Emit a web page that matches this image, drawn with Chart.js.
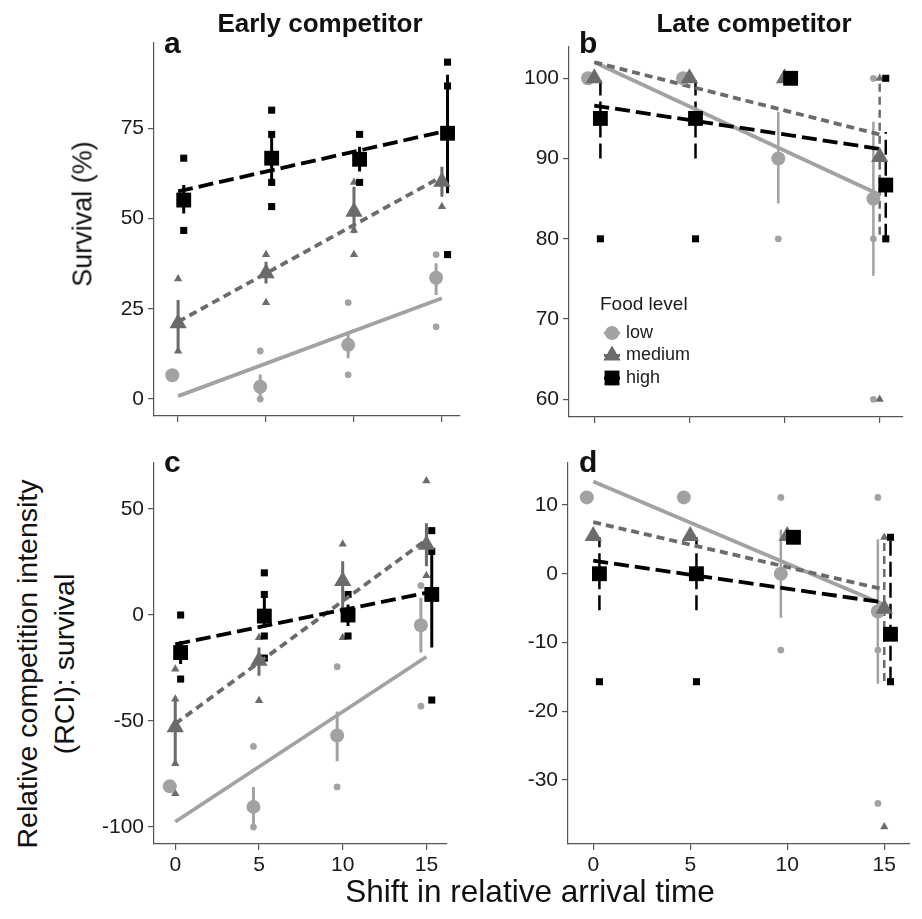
<!DOCTYPE html>
<html>
<head>
<meta charset="utf-8">
<script src="https://cdn.jsdelivr.net/npm/chart.js@4.4.1/dist/chart.umd.min.js"></script>
<style>
body { margin: 0; width: 922px; height: 919px; position: relative; overflow: hidden; background: #fff;
       font-family: "Liberation Sans", Arial, sans-serif; color: #111; }
canvas { position: absolute; }
.lbl { position: absolute; white-space: nowrap; line-height: 1; }
.tag { font-weight: bold; font-size: 30px; }
.ttl { font-weight: bold; font-size: 26px; transform: translateX(-50%); }
.rot { transform: translate(-50%, -50%) rotate(-90deg); text-align: center; line-height: 1.3; }
</style>
</head>
<body>
<canvas id="pa" width="376" height="409" style="left:94px;top:25px"></canvas>
<canvas id="pb" width="404" height="406" style="left:509px;top:29px"></canvas>
<canvas id="pc" width="363" height="439" style="left:94px;top:445px"></canvas>
<canvas id="pd" width="412" height="439" style="left:508px;top:445px"></canvas>

<div class="lbl ttl" style="left:320px;top:10px">Early competitor</div>
<div class="lbl ttl" style="left:754px;top:10px">Late competitor</div>
<div class="lbl tag" style="left:164px;top:28px">a</div>
<div class="lbl tag" style="left:579px;top:28px">b</div>
<div class="lbl tag" style="left:164px;top:447px">c</div>
<div class="lbl tag" style="left:579px;top:447px">d</div>
<div class="lbl rot" style="left:83px;top:214px;font-size:27px">Survival (%)</div>
<div class="lbl rot" style="left:46px;top:664px;font-size:28.5px">Relative competition intensity<br>(RCI): survival</div>
<div class="lbl" style="left:530px;top:876px;font-size:31.5px;transform:translateX(-50%)">Shift in relative arrival time</div>

<script>
'use strict';

var xCats = [0, 5, 10, 15];
var fitX = [0, 15];
var legendLabels = ['low', 'medium', 'high'];

// a - survival, early competitor
var aYTicks = [0, 25, 50, 75];
var aLowMean = [6.6, 3.4, 15.0, 33.6];
var aLowLo = [6.6, 0, 11.3, 28.8];
var aLowHi = [6.6, 6.8, 18.2, 37.6];
var aLowRaw = [[0, 6.7], [5, 13.3], [5, 0], [10, 26.7], [10, 6.7], [15, 40], [15, 20]];
var aLowFit = [0.8, 27.9];
var aMedMean = [21.0, 34.8, 51.9, 60.2];
var aMedLo = [13.3, 32.0, 45.9, 56.0];
var aMedHi = [27.4, 38.0, 58.8, 64.3];
var aMedRaw = [[0, 33.3], [0, 13.3], [5, 40], [5, 26.7], [10, 60], [10, 46.7], [10, 40], [15, 53.3]];
var aMedFit = [21.4, 61.6];
var aHighMean = [55.1, 66.7, 66.4, 73.6];
var aHighLo = [51.4, 60.2, 63.0, 57.0];
var aHighHi = [59.3, 73.6, 69.9, 89.8];
var aHighRaw = [[0, 66.7], [0, 46.7], [5, 80], [5, 73.3], [5, 60], [5, 53.3], [10, 73.3], [10, 60], [15, 93.3], [15, 86.7], [15, 40]];
var aHighFit = [57.5, 74.0];

// b - survival, late competitor
var bYTicks = [60, 70, 80, 90, 100];
var bLowMean = [100, 100, 90, 85];
var bLowLo = [100, 100, 84.4, 75.4];
var bLowHi = [100, 100, 95.8, 94.6];
var bLowRaw = [[10, 80], [15, 100], [15, 80], [15, 60]];
var bLowFit = [102.0, 85.5];
var bMedMean = [100, 100, 100, 90.2];
var bMedLo = [100, 100, 100, 80.5];
var bMedHi = [100, 100, 100, 100];
var bMedRaw = [[15, 100], [15, 60]];
var bMedFit = [102.0, 93.0];
var bHighMean = [95, 95, 100, 86.7];
var bHighLo = [90, 90, 100, 80];
var bHighHi = [100, 100, 100, 93.3];
var bHighRaw = [[0, 80], [5, 80], [15, 100], [15, 80]];
var bHighFit = [96.6, 91.2];

// c - RCI, early competitor
var cYTicks = [-100, -50, 0, 50];
var cLowMean = [-80.8, -90.5, -56.8, -4.8];
var cLowLo = [-80.8, -99.8, -69.0, -17.7];
var cLowHi = [-80.8, -81.1, -45.5, 8.1];
var cLowRaw = [[5, -62], [5, -100], [10, -24.4], [10, -81.1], [15, 13.9], [15, -43]];
var cLowFit = [-97.5, -19.7];
var cMedMean = [-52.9, -21.6, 16.0, 33.2];
var cMedLo = [-70.1, -28.6, 1.9, 23.0];
var cMedHi = [-39.6, -15.3, 25.4, 43.3];
var cMedRaw = [[0, -25.5], [0, -84.2], [0, -70.1], [0, -39.6], [5, -10.6], [5, -40.4], [10, 33.5], [10, -10.6], [15, 63.3], [15, 18.6]];
var cMedFit = [-51.3, 35.5];
var cHighMean = [-17.7, -0.5, 0, 9.7];
var cHighLo = [-23.1, -5.9, -5.2, -15.3];
var cHighHi = [-12.2, 8.1, 5.0, 30.0];
var cHighRaw = [[0, 0], [0, -30.2], [5, 19.9], [5, 9.7], [5, -9.9], [5, -20.3], [10, 9.7], [10, -9.9], [15, 39.8], [15, 30], [15, -40.1]];
var cHighFit = [-13.8, 10.5];

// d - RCI, late competitor
var dYTicks = [-30, -20, -10, 0, 10];
var dLowMean = [11.1, 11.1, 0, -5.5];
var dLowLo = [11.1, 11.1, -6.4, -16.0];
var dLowHi = [11.1, 11.1, 6.4, 5.0];
var dLowRaw = [[10, 11.1], [10, -11.1], [15, 11.1], [15, -11.1], [15, -33.4]];
var dLowFit = [13.4, -4.5];
var dMedMean = [5.5, 5.5, 5.5, -5.1];
var dMedLo = [5.5, 5.5, 5.5, -15.6];
var dMedHi = [5.5, 5.5, 5.5, 5.3];
var dMedRaw = [[15, 5.3], [15, -36.8]];
var dMedFit = [7.5, -2.3];
var dHighMean = [0, 0, 5.3, -8.8];
var dHighLo = [-5.3, -5.3, 5.3, -15.7];
var dHighHi = [5.3, 5.3, 5.3, 5.3];
var dHighRaw = [[0, -15.7], [5, -15.7], [15, 5.3], [15, -15.7]];
var dHighFit = [1.9, -4.2];

var FONT = '"Liberation Sans", Arial, sans-serif';
var AXIS = '#555555';

// look of the three food levels (dodge is in x units)
var STYLE = {
    low: { color: '#a2a2a2', shape: 'circle', dash: [], dodge: -0.33, big: 7, small: 3.4 },
    medium: { color: '#6b6b6b', shape: 'triangle', dash: [8, 5], dodge: 0, big: 10, small: 4.8 },
    high: { color: '#000000', shape: 'rect', dash: [15, 6], dodge: 0.32, big: 10.5, small: 5 }
};

function groupSets(g, mean, lo, hi, raw, fit, errDash) {
    var st = STYLE[g];
    var meanPts = [], errPts = [], rawPts = [];
    for (var i = 0; i < xCats.length; ++i) {
        var x = xCats[i] + st.dodge;
        meanPts.push({ x: x, y: mean[i] });
        errPts.push({ x: x, y: lo[i] }, { x: x, y: hi[i] }, { x: x, y: null });
    }
    for (var j = 0; j < raw.length; ++j) {
        rawPts.push({ x: raw[j][0] + st.dodge, y: raw[j][1] });
    }
    return {
        mean: { data: meanPts, pointStyle: st.shape, pointRadius: st.big, backgroundColor: st.color,
                borderWidth: 0, clip: false },
        fit: { data: [{ x: fitX[0], y: fit[0] }, { x: fitX[1], y: fit[1] }], showLine: true,
               borderColor: st.color, borderWidth: 3.8, borderDash: st.dash, borderCapStyle: 'butt',
               pointRadius: 0, clip: false },
        err: { data: errPts, showLine: true, spanGaps: false, borderColor: st.color,
               borderWidth: errDash ? 2.5 : 3, borderDash: errDash ? st.dash : [],
               borderCapStyle: 'butt', pointRadius: 0, clip: false },
        raw: { data: rawPts, pointStyle: st.shape, pointRadius: st.small, backgroundColor: st.color,
               borderWidth: 0, clip: false }
    };
}

function makePanel(id, xRange, yRange, yTicks, showX, errDash, low, med, high, extraPlugins) {
    var l = groupSets('low', low[0], low[1], low[2], low[3], low[4], errDash);
    var m = groupSets('medium', med[0], med[1], med[2], med[3], med[4], errDash);
    var h = groupSets('high', high[0], high[1], high[2], high[3], high[4], errDash);
    // first dataset ends up on top
    var datasets = [h.mean, m.mean, l.mean, h.fit, m.fit, l.fit, h.err, m.err, l.err, h.raw, m.raw, l.raw];

    var ctx = document.getElementById(id).getContext('2d');
    return new Chart(ctx, {
        type: 'scatter',
        data: { datasets: datasets },
        options: {
            responsive: false,
            animation: false,
            events: [],
            layout: { padding: { top: 18, right: 0, bottom: 0, left: 0 } },
            plugins: { legend: { display: false }, tooltip: { enabled: false } },
            scales: {
                x: {
                    type: 'linear', min: xRange[0], max: xRange[1],
                    afterBuildTicks: function (s) { s.ticks = xCats.map(function (v) { return { value: v }; }); },
                    afterFit: function (s) { s.height = showX ? 40 : 18; },
                    grid: { drawOnChartArea: false, tickLength: 6, color: AXIS, lineWidth: 1.2 },
                    border: { color: AXIS, width: 1.2 },
                    ticks: { display: showX, autoSkip: false, maxRotation: 0, padding: 3, color: '#1a1a1a',
                             font: { family: FONT, size: 21 } }
                },
                y: {
                    type: 'linear', min: yRange[0], max: yRange[1],
                    afterBuildTicks: function (s) { s.ticks = yTicks.map(function (v) { return { value: v }; }); },
                    afterFit: function (s) { s.width = 60; },
                    grid: { drawOnChartArea: false, tickLength: 6, color: AXIS, lineWidth: 1.2 },
                    border: { color: AXIS, width: 1.2 },
                    ticks: { autoSkip: false, padding: 4, color: '#1a1a1a', font: { family: FONT, size: 21 } }
                }
            }
        },
        plugins: extraPlugins || []
    });
}

function drawShape(c, shape, x, y, r) {
    c.beginPath();
    if (shape == 'circle') {
        c.arc(x, y, r, 0, Math.PI * 2);
    } else if (shape == 'triangle') {
        c.moveTo(x, y - r);
        c.lineTo(x + r * 0.866, y + r * 0.5);
        c.lineTo(x - r * 0.866, y + r * 0.5);
        c.closePath();
    } else {
        var s = r * Math.SQRT1_2;
        c.rect(x - s, y - s, 2 * s, 2 * s);
    }
    c.fill();
}

// legend inside panel b
var foodLegend = {
    id: 'foodLegend',
    afterDraw: function (chart) {
        var c = chart.ctx;
        c.save();
        c.fillStyle = '#1a1a1a';
        c.textBaseline = 'middle';
        c.textAlign = 'left';
        c.font = '19px ' + FONT;
        c.fillText('Food level', 91, 276);
        var keys = ['low', 'medium', 'high'];
        for (var i = 0; i < keys.length; ++i) {
            var st = STYLE[keys[i]];
            var y = 304 + i * 22.5;
            c.strokeStyle = st.color;
            c.lineWidth = 3;
            c.beginPath();
            c.moveTo(95, y);
            c.lineTo(111, y);
            c.stroke();
            c.fillStyle = st.color;
            drawShape(c, st.shape, 103, y, st.big);
            c.fillStyle = '#1a1a1a';
            c.font = '18px ' + FONT;
            c.fillText(legendLabels[i], 117, y);
        }
        c.restore();
    }
};

makePanel('pa', [-1.37, 16.0], [-4.7, 98.6], aYTicks, false, false,
    [aLowMean, aLowLo, aLowHi, aLowRaw, aLowFit],
    [aMedMean, aMedLo, aMedHi, aMedRaw, aMedFit],
    [aHighMean, aHighLo, aHighHi, aHighRaw, aHighFit]);
makePanel('pb', [-1.33, 16.2], [57.8, 103.9], bYTicks, false, true,
    [bLowMean, bLowLo, bLowHi, bLowRaw, bLowFit],
    [bMedMean, bMedLo, bMedHi, bMedRaw, bMedFit],
    [bHighMean, bHighLo, bHighHi, bHighRaw, bHighFit], [foodLegend]);
makePanel('pc', [-1.27, 16.2], [-108, 71.7], cYTicks, true, false,
    [cLowMean, cLowLo, cLowHi, cLowRaw, cLowFit],
    [cMedMean, cMedLo, cMedHi, cMedRaw, cMedFit],
    [cHighMean, cHighLo, cHighHi, cHighRaw, cHighFit]);
makePanel('pd', [-1.3, 16.3], [-39.3, 16.1], dYTicks, true, true,
    [dLowMean, dLowLo, dLowHi, dLowRaw, dLowFit],
    [dMedMean, dMedLo, dMedHi, dMedRaw, dMedFit],
    [dHighMean, dHighLo, dHighHi, dHighRaw, dHighFit]);
</script>
</body>
</html>
